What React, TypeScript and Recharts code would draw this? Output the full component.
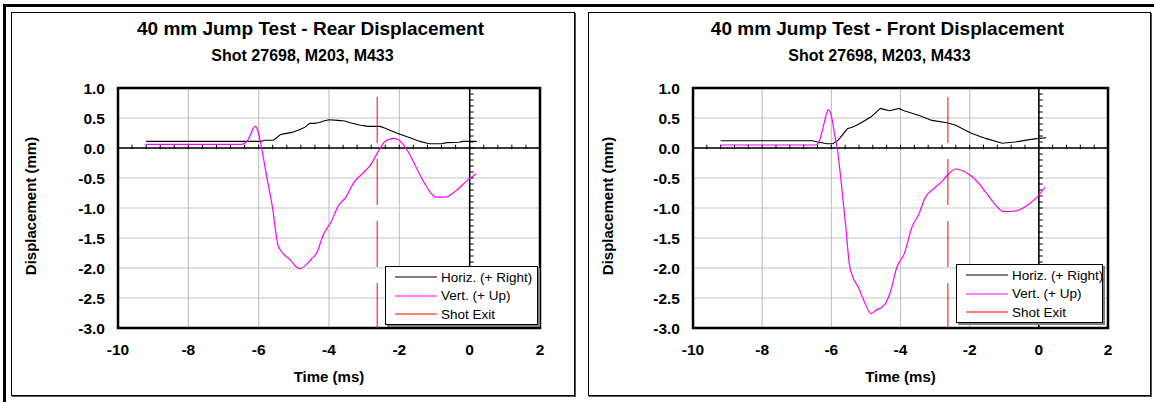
import React from "react";
import { LineChart, Line, XAxis, YAxis, CartesianGrid, ReferenceLine, ReferenceArea } from "recharts";

const FONT = "'Liberation Sans', Arial, Helvetica, sans-serif";

// time (ms), displacement (mm)
const rearHoriz: [number, number][] = [
  [-9.2, 0.11], [-5.92, 0.11], [-5.85, 0.13], [-5.58, 0.13], [-5.49, 0.17], [-5.39, 0.22],
  [-5.25, 0.24], [-5.05, 0.26], [-4.83, 0.31], [-4.7, 0.34], [-4.55, 0.41], [-4.42, 0.41],
  [-4.3, 0.42], [-4.15, 0.45], [-4.0, 0.47], [-3.75, 0.46], [-3.55, 0.45], [-3.4, 0.42],
  [-3.1, 0.38], [-2.9, 0.36], [-2.55, 0.36], [-2.4, 0.33], [-2.08, 0.25], [-1.7, 0.17],
  [-1.41, 0.11], [-1.15, 0.07], [-0.8, 0.07], [-0.65, 0.09], [-0.3, 0.095], [-0.2, 0.11], [0.2, 0.11],
];
const rearVert: [number, number][] = [
  [-9.2, 0.06], [-6.5, 0.06], [-6.36, 0.09], [-6.24, 0.21], [-6.15, 0.33], [-6.1, 0.36],
  [-6.03, 0.3], [-5.95, 0.1], [-5.9, -0.05], [-5.77, -0.48], [-5.61, -0.98], [-5.45, -1.62],
  [-5.3, -1.76], [-5.09, -1.87], [-4.93, -1.98], [-4.83, -2.01], [-4.67, -1.96], [-4.5, -1.85],
  [-4.36, -1.76], [-4.15, -1.43], [-3.94, -1.23], [-3.73, -0.96], [-3.52, -0.82], [-3.31, -0.59],
  [-3.0, -0.4], [-2.79, -0.26], [-2.63, -0.09], [-2.42, 0.1], [-2.16, 0.16], [-2.0, 0.13],
  [-1.74, -0.07], [-1.48, -0.37], [-1.22, -0.65], [-0.96, -0.82], [-0.7, -0.82], [-0.38, -0.71],
  [-0.07, -0.54], [0.19, -0.43],
];
const frontHoriz: [number, number][] = [
  [-9.2, 0.12], [-6.55, 0.12], [-6.39, 0.1], [-6.12, 0.07], [-5.96, 0.07], [-5.8, 0.13],
  [-5.65, 0.24], [-5.54, 0.32], [-5.38, 0.35], [-5.17, 0.41], [-4.85, 0.52], [-4.58, 0.66],
  [-4.45, 0.64], [-4.31, 0.62], [-4.05, 0.66], [-3.9, 0.62], [-3.78, 0.6], [-3.46, 0.54],
  [-3.09, 0.46], [-2.66, 0.42], [-2.4, 0.38], [-1.97, 0.25], [-1.54, 0.16], [-1.06, 0.08],
  [-0.69, 0.1], [-0.27, 0.14], [0.0, 0.16], [0.21, 0.17],
];
const frontVert: [number, number][] = [
  [-9.2, 0.05], [-6.46, 0.05], [-6.34, 0.13], [-6.21, 0.41], [-6.09, 0.64], [-6.0, 0.54],
  [-5.91, 0.24], [-5.83, 0], [-5.7, -0.65], [-5.59, -1.26], [-5.48, -1.93], [-5.38, -2.15],
  [-5.22, -2.32], [-5.06, -2.54], [-4.85, -2.76], [-4.72, -2.71], [-4.47, -2.62], [-4.31, -2.43],
  [-4.1, -1.98], [-3.89, -1.76], [-3.67, -1.32], [-3.46, -1.09], [-3.3, -0.84], [-3.04, -0.68],
  [-2.77, -0.54], [-2.61, -0.43], [-2.4, -0.35], [-2.24, -0.37], [-1.92, -0.48], [-1.54, -0.73],
  [-1.28, -0.93], [-1.01, -1.06], [-0.69, -1.05], [-0.37, -0.97], [-0.05, -0.82], [0.18, -0.65],
];
const shotExit: [number, number][] = [[-2.63, 0.85], [-2.63, -3.0]];

const xTicks = [-10, -8, -6, -4, -2, 0, 2];
const yTicks = [1, 0.5, 0, -0.5, -1, -1.5, -2, -2.5, -3];
const legendNames = ["Horiz. (+ Right)", "Vert. (+ Up)", "Shot Exit"];
const colors = ["#000000", "#ff00ff", "#ff0000"];

// minor tick marks on the crossing axes
const xMinor = Array.from({ length: 31 }, (_, i) => -10 + i * 0.4);
const yMinor = Array.from({ length: 41 }, (_, i) => -3 + i * 0.1);

const toRows = (pts: [number, number][]) => pts.map(([t, v]) => ({ t, v }));

type PanelProps = {
  title: string;
  horiz: [number, number][];
  vert: [number, number][];
  left: number;
  width: number;
  plotLeft: number;
  plotRight: number;
  legendX: number;
  legendY: number;
  legendW: number;
};

function Panel(p: PanelProps) {
  const height = 384;
  const plotTop = 76;
  const plotBottom = 316;
  const tickLen = 0.115;
  return (
    <div
      style={{
        position: "absolute",
        left: p.left,
        top: 12,
        width: p.width,
        height,
        border: "1px solid #000",
        boxSizing: "border-box",
        boxShadow: "1px 1px 0 #555",
        background: "#fff",
      }}
    >
      <div style={{ position: "absolute", left: -1, top: -1 }}>
        <LineChart
          width={p.width}
          height={height}
          margin={{ top: plotTop, left: p.plotLeft - 60, right: p.width - p.plotRight, bottom: height - plotBottom - 30 }}
        >
          <CartesianGrid stroke="#c4c4c4" strokeWidth={1.2} />
          <XAxis
            dataKey="t"
            type="number"
            domain={[-10, 2]}
            ticks={xTicks}
            allowDataOverflow
            axisLine={false}
            tickLine={false}
            height={30}
            tickMargin={10}
            tick={{ fontSize: 15.5, fontWeight: "bold", fill: "#000", fontFamily: FONT }}
          />
          <YAxis
            dataKey="v"
            type="number"
            domain={[-3, 1]}
            ticks={yTicks}
            allowDataOverflow
            axisLine={false}
            tickLine={false}
            width={60}
            tickMargin={7}
            tickFormatter={(v: number) => v.toFixed(1)}
            tick={{ fontSize: 15.5, fontWeight: "bold", fill: "#000", fontFamily: FONT }}
          />
          <ReferenceLine y={0} stroke="#000" strokeWidth={1.5} />
          <ReferenceLine x={0} stroke="#000" strokeWidth={1.5} />
          {xMinor.map((t) => (
            <ReferenceLine key={"xm" + t} segment={[{ x: t, y: -0.02 }, { x: t, y: 0.055 }]} stroke="#000" />
          ))}
          {yMinor.map((v) => (
            <ReferenceLine key={"ym" + v} segment={[{ x: 0, y: v }, { x: tickLen, y: v }]} stroke="#000" />
          ))}
          <Line
            data={toRows(p.horiz)}
            dataKey="v"
            type="linear"
            stroke={colors[0]}
            strokeWidth={1.1}
            dot={false}
            isAnimationActive={false}
          />
          <Line
            data={toRows(p.vert)}
            dataKey="v"
            type="monotone"
            stroke={colors[1]}
            strokeWidth={1.2}
            dot={false}
            isAnimationActive={false}
          />
          <Line
            data={toRows(shotExit)}
            dataKey="v"
            type="linear"
            stroke={colors[2]}
            strokeWidth={1}
            strokeDasharray="46 16"
            dot={false}
            isAnimationActive={false}
          />
          <ReferenceArea x1={-10} x2={2} y1={-3} y2={1} fill="none" stroke="#000" strokeWidth={2.5} />
        </LineChart>
      </div>

      <div
        style={{
          position: "absolute",
          left: p.legendX - 1,
          top: p.legendY - 1,
          width: p.legendW,
          height: 59,
          background: "#fff",
          border: "1px solid #000",
          boxSizing: "border-box",
          boxShadow: "2px 2px 0 #808080",
          fontFamily: FONT,
          fontSize: 13.5,
        }}
      >
        {legendNames.map((name, i) => (
          <div
            key={name}
            style={{ position: "absolute", left: 0, top: 1 + i * 18.5, height: 18, display: "flex", alignItems: "center" }}
          >
            <svg width={52} height={18}>
              <line x1={9} x2={51} y1={9} y2={9} stroke={colors[i]} strokeWidth={1.2} />
            </svg>
            <span style={{ marginLeft: 3, whiteSpace: "nowrap" }}>{name}</span>
          </div>
        ))}
      </div>

      <div
        style={{
          position: "absolute",
          left: 0,
          top: 6,
          width: 597,
          textAlign: "center",
          fontFamily: FONT,
          fontWeight: "bold",
          fontSize: 19,
          lineHeight: "19px",
          whiteSpace: "nowrap",
        }}
      >
        {p.title}
      </div>
      <div
        style={{
          position: "absolute",
          left: 0,
          top: 35,
          width: 581,
          textAlign: "center",
          fontFamily: FONT,
          fontWeight: "bold",
          fontSize: 16,
          lineHeight: "16px",
          whiteSpace: "nowrap",
        }}
      >
        Shot 27698, M203, M433
      </div>
      <div
        style={{
          position: "absolute",
          left: 18.5 - 150,
          top: 193 - 10,
          width: 300,
          height: 20,
          lineHeight: "20px",
          textAlign: "center",
          transform: "rotate(-90deg)",
          fontFamily: FONT,
          fontWeight: "bold",
          fontSize: 15,
          whiteSpace: "nowrap",
        }}
      >
        Displacement (mm)
      </div>
      <div
        style={{
          position: "absolute",
          left: (p.plotLeft + p.plotRight) / 2 - 1 - 100,
          top: 354,
          width: 200,
          height: 20,
          lineHeight: "20px",
          textAlign: "center",
          fontFamily: FONT,
          fontWeight: "bold",
          fontSize: 15,
        }}
      >
        Time (ms)
      </div>
    </div>
  );
}

export default function App() {
  return (
    <div style={{ position: "absolute", left: 0, top: 0, width: 1154, height: 402, overflow: "hidden", background: "#fff" }}>
      <div
        style={{
          position: "absolute",
          left: 3,
          top: 4,
          width: 1300,
          height: 600,
          borderTop: "3px solid #000",
          borderLeft: "3px solid #000",
        }}
      />
      <Panel
        title="40 mm Jump Test - Rear Displacement"
        horiz={rearHoriz}
        vert={rearVert}
        left={11}
        width={564}
        plotLeft={107}
        plotRight={529}
        legendX={374}
        legendY={254}
        legendW={153}
      />
      <Panel
        title="40 mm Jump Test - Front Displacement"
        horiz={frontHoriz}
        vert={frontVert}
        left={588}
        width={563}
        plotLeft={105}
        plotRight={520}
        legendX={368}
        legendY={252}
        legendW={147}
      />
    </div>
  );
}
